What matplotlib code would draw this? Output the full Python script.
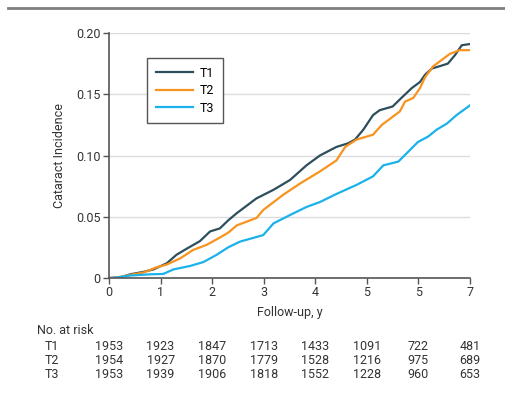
import matplotlib
matplotlib.use("Agg")
import matplotlib.pyplot as plt
import matplotlib.transforms as mtransforms
from matplotlib.lines import Line2D

plt.rcParams['font.family'] = ['Roboto', 'DejaVu Sans']

# Cumulative incidence (years, incidence)
t1_time = [0, 0.21, 0.41, 0.67, 0.86, 1.12, 1.31, 1.51, 1.76, 1.96, 2.15, 2.31, 2.48, 2.86, 3.19,
           3.51, 3.83, 4.09, 4.41, 4.64, 4.77, 4.93, 5.12, 5.25, 5.5, 5.67, 5.87, 6.03, 6.13, 6.26,
           6.42, 6.57, 6.71, 6.84, 7.0]
t1_inc = [0, 0.0005, 0.003, 0.005, 0.007, 0.012, 0.019, 0.024, 0.030, 0.038, 0.0405, 0.047, 0.053,
          0.065, 0.072, 0.080, 0.092, 0.100, 0.107, 0.110, 0.113, 0.121, 0.133, 0.137, 0.140, 0.147,
          0.155, 0.160, 0.166, 0.171, 0.173, 0.175, 0.182, 0.190, 0.191]

t2_time = [0, 0.1, 0.41, 0.67, 0.92, 1.12, 1.38, 1.63, 1.89, 2.15, 2.31, 2.48, 2.86, 2.99, 3.38,
           3.7, 4.09, 4.41, 4.58, 4.8, 5.12, 5.29, 5.45, 5.64, 5.74, 5.9, 6.03, 6.13, 6.29, 6.42,
           6.61, 6.8, 7.0]
t2_inc = [0, 0, 0.0025, 0.0045, 0.0087, 0.011, 0.016, 0.0229, 0.027, 0.033, 0.037, 0.043, 0.049,
          0.0555, 0.068, 0.077, 0.087, 0.096, 0.107, 0.113, 0.117, 0.125, 0.130, 0.136, 0.144,
          0.147, 0.155, 0.164, 0.173, 0.177, 0.183, 0.186, 0.186]

t3_time = [0, 0.08, 0.41, 0.79, 1.05, 1.25, 1.57, 1.83, 2.09, 2.31, 2.54, 2.99, 3.19, 3.51, 3.83,
           4.09, 4.38, 4.64, 4.8, 5.12, 5.32, 5.61, 5.8, 5.99, 6.19, 6.35, 6.55, 6.74, 6.97, 7.0]
t3_inc = [0, 0, 0.002, 0.003, 0.0033, 0.007, 0.0098, 0.013, 0.019, 0.025, 0.0297, 0.035, 0.0446,
          0.0514, 0.058, 0.062, 0.068, 0.073, 0.076, 0.083, 0.092, 0.095, 0.103, 0.111, 0.1155,
          0.121, 0.126, 0.133, 0.140, 0.141]

groups = ['T1', 'T2', 'T3']
colors = ['#2d4f5c', '#f7931e', '#1ab2ea']

x_ticks = [0, 1, 2, 3, 4, 5, 6, 7]
x_tick_labels = ['0', '1', '2', '3', '4', '5', '5', '7']
y_ticks = [0, 0.05, 0.10, 0.15, 0.20]
y_tick_labels = ['0', '0.05', '0.10', '0.15', '0.20']

at_risk = {
    'T1': [1953, 1923, 1847, 1713, 1433, 1091, 722, 481],
    'T2': [1954, 1927, 1870, 1779, 1528, 1216, 975, 689],
    'T3': [1953, 1939, 1906, 1818, 1552, 1228, 960, 653],
}

FS = 9
TXT = '#333333'
W, H = 505, 398
fig = plt.figure(figsize=(W / 100, H / 100), dpi=100)
ax = fig.add_axes([109 / W, 1 - 278 / H, 361 / W, 245 / H])

# top rule
fig.add_artist(Line2D([8 / W, 1], [1 - 8 / H, 1 - 8 / H], color='#7f7f7f', lw=2))

series = [(t1_time, t1_inc), (t2_time, t2_inc), (t3_time, t3_inc)]
for (tt, vv), name, c in zip(series, groups, colors):
    ax.plot(tt, vv, color=c, lw=1.6, label=name)

ax.set_xlim(0, 7)
ax.set_ylim(0, 0.2)
ax.set_xticks(x_ticks)
ax.set_xticklabels(x_tick_labels)
ax.set_yticks(y_ticks)
ax.set_yticklabels(y_tick_labels)
ax.yaxis.grid(True, color='#dcdcdc', lw=1)
ax.set_axisbelow(True)
for s in ['top', 'right']:
    ax.spines[s].set_visible(False)
for s in ['left', 'bottom']:
    ax.spines[s].set_color('#555555')
    ax.spines[s].set_linewidth(1.2)
ax.tick_params(axis='both', length=4, width=1, color='#555555', labelsize=FS,
               labelcolor=TXT, pad=2)

ax.set_xlabel('Follow-up, y', fontsize=FS, color=TXT, labelpad=5)
ax.set_ylabel('Cataract Incidence', fontsize=FS, color=TXT, labelpad=7)

leg = ax.legend(loc='upper left', bbox_to_anchor=(0.105, 0.898), fontsize=FS,
                handlelength=3.0, fancybox=False, edgecolor='#555555', framealpha=1,
                borderpad=0.7, labelspacing=0.36, handletextpad=0.5, borderaxespad=0)
leg.get_frame().set_linewidth(1)

# number at risk table
trans = mtransforms.blended_transform_factory(ax.transData, fig.transFigure)
fig.text(37 / W, 1 - 330 / H, 'No. at risk', fontsize=FS, color=TXT, va='center')
row_y = [346, 360, 374]
for name, yy in zip(groups, row_y):
    fig.text(45 / W, 1 - yy / H, name, fontsize=FS, color=TXT, va='center')
    for xv, n in zip(x_ticks, at_risk[name]):
        ax.text(xv, 1 - yy / H, str(n), transform=trans, fontsize=FS, color=TXT,
                ha='center', va='center', clip_on=False)

fig.savefig('out.png', dpi=100)
